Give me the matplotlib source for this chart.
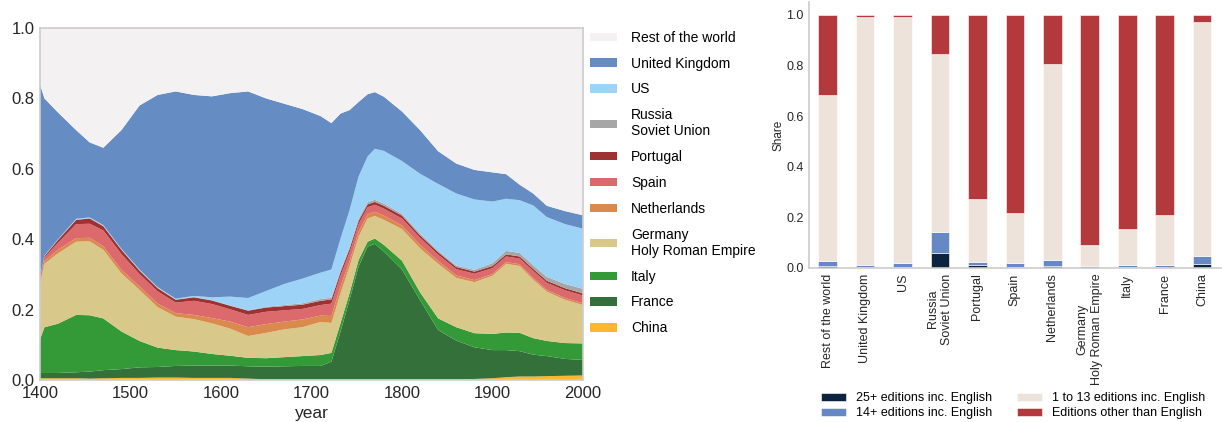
import numpy as np
import matplotlib
matplotlib.use("Agg")
import matplotlib.pyplot as plt

plt.rcParams['font.family'] = ['Liberation Sans', 'DejaVu Sans']

# ---- left chart: share of titles by country over time ----
years = [1400, 1405, 1420, 1440, 1455, 1470, 1490, 1510, 1530, 1550, 1570, 1590,
         1610, 1630, 1650, 1670, 1690, 1710, 1722, 1732, 1742, 1752, 1762, 1770,
         1780, 1800, 1820, 1840, 1860, 1880, 1900, 1915, 1930, 1945, 1960, 1980, 2000]

china = [.005, .005, .005, .005, .004, .005, .006, .006, .007, .007, .006, .006,
         .006, .004, .002, .002, .002, .002, .002, .002, .002, .002, .002, .002,
         .002, .002, .002, .002, .002, .003, .005, .008, .010, .010, .011, .012, .013]
france = [.015, .015, .015, .017, .020, .023, .025, .030, .030, .033, .035, .035,
          .035, .035, .036, .037, .038, .038, .050, .135, .225, .320, .377, .385,
          .363, .312, .225, .140, .110, .090, .080, .077, .072, .062, .057, .048, .044]
italy = [.095, .130, .140, .163, .160, .147, .107, .075, .055, .045, .040, .033,
         .028, .024, .024, .026, .028, .031, .025, .024, .019, .019, .014, .015,
         .019, .025, .022, .033, .038, .040, .046, .050, .052, .047, .043, .045, .047]
germany = [.155, .180, .200, .208, .210, .195, .165, .145, .115, .095, .092, .087,
           .077, .062, .072, .079, .082, .094, .085, .085, .076, .066, .066, .064,
           .071, .090, .125, .155, .140, .145, .165, .195, .190, .166, .140, .123, .109]
netherlands = [.005, .008, .010, .010, .010, .010, .010, .010, .010, .010, .012, .015,
               .020, .025, .025, .022, .022, .018, .020, .020, .015, .014, .012, .012,
               .012, .010, .010, .008, .007, .006, .005, .005, .005, .005, .005, .005, .005]
spain = [.010, .010, .020, .040, .040, .045, .045, .035, .035, .030, .040, .040,
         .035, .035, .035, .032, .030, .030, .035, .030, .025, .022, .020, .020,
         .020, .020, .020, .018, .018, .018, .017, .016, .016, .020, .020, .022, .022]
portugal = [.003, .004, .008, .012, .015, .012, .012, .010, .009, .008, .010, .010,
            .010, .012, .012, .012, .012, .012, .012, .010, .010, .009, .008, .008,
            .008, .008, .007, .007, .006, .006, .006, .006, .006, .006, .006, .006, .006]
russia = [.001, .001, .001, .001, .001, .001, .001, .001, .001, .001, .001, .001,
          .001, .001, .002, .003, .004, .005, .005, .005, .005, .006, .006, .006,
          .006, .005, .005, .004, .004, .005, .008, .010, .010, .010, .011, .012, .013]
us = [.001, .001, .001, .002, .002, .002, .002, .002, .002, .002, .003, .008,
      .025, .035, .045, .060, .070, .075, .080, .090, .105, .120, .130, .145,
      .150, .150, .170, .190, .205, .200, .175, .148, .150, .170, .170, .170, .171]
uk = [.550, .446, .360, .252, .213, .220, .337, .466, .546, .589, .571, .571,
      .578, .587, .547, .512, .482, .445, .416, .356, .285, .212, .177, .161,
      .154, .141, .124, .093, .085, .084, .083, .070, .044, .034, .032, .037, .038]
rest = [.160, .200, .240, .290, .325, .340, .290, .220, .190, .180, .190, .194,
        .185, .180, .200, .215, .230, .250, .270, .243, .233, .210, .188, .182,
        .195, .237, .290, .350, .385, .403, .410, .415, .445, .470, .505, .520, .532]

layer_names = ['China', 'France', 'Italy', 'Germany\nHoly Roman Empire', 'Netherlands',
               'Spain', 'Portugal', 'Russia\nSoviet Union', 'US', 'United Kingdom',
               'Rest of the world']
layer_colors = ['#fdb72f', '#34713a', '#349a37', '#d8c88a', '#da8a4c', '#dc6a6d',
                '#9e3132', '#a6a6a6', '#9dd3f6', '#668dc3', '#f3f1f1']

# ---- right chart: edition shares by country ----
countries = ['Rest of the world', 'United Kingdom', 'US', 'Russia\nSoviet Union',
             'Portugal', 'Spain', 'Netherlands', 'Germany\nHoly Roman Empire',
             'Italy', 'France', 'China']
ed_25 = [.008, .005, .005, .060, .010, .005, .009, .001, .005, .003, .016]
ed_14 = [.018, .008, .013, .081, .012, .016, .024, .007, .008, .010, .030]
ed_1_13 = [.657, .979, .974, .704, .249, .196, .772, .084, .141, .197, .924]
ed_other = [.317, .008, .008, .155, .729, .783, .195, .908, .846, .790, .030]

ed_labels = ['25+ editions inc. English', '14+ editions inc. English',
             '1 to 13 editions inc. English', 'Editions other than English']
ed_colors = ['#0c2440', '#6688c5', '#eee3da', '#b4393c']

fig = plt.figure(figsize=(12.22, 4.22), dpi=100)

# left: stacked area
ax1 = fig.add_axes([0.0327, 0.0995, 0.4444, 0.834])
ax1.stackplot(years, china, france, italy, germany, netherlands, spain,
              portugal, russia, us, uk, rest,
              colors=layer_colors, labels=layer_names, linewidth=0)
ax1.set_xlim(1400, 2000)
ax1.set_ylim(0, 1)
ax1.set_xticks(range(1400, 2001, 100))
ax1.set_yticks(np.arange(0, 1.01, 0.2))
ax1.tick_params(length=0, labelsize=12, colors='#262626', pad=4)
ax1.set_xlabel('year', fontsize=12.5, color='#262626', labelpad=4)
for sp in ax1.spines.values():
    sp.set_color('#cccccc')
    sp.set_linewidth(1.2)
h, l = ax1.get_legend_handles_labels()
ax1.legend(h[::-1], l[::-1], loc='upper left', bbox_to_anchor=(1.0, 1.012),
           frameon=False, fontsize=10, handlelength=1.95, handleheight=0.55,
           labelspacing=0.85, handletextpad=1.0, borderaxespad=0.1)

# right: stacked bars
ax2 = fig.add_axes([0.662, 0.365, 0.337, 0.630])
x = np.arange(len(countries))
bottom = np.zeros(len(countries))
for vals, lab, col in zip([ed_25, ed_14, ed_1_13, ed_other], ed_labels, ed_colors):
    ax2.bar(x, vals, 0.5, bottom=bottom, color=col, label=lab,
            edgecolor='white', linewidth=0.4)
    bottom += np.array(vals)
ax2.set_xlim(-0.5, len(countries) - 0.5)
ax2.set_ylim(0, 1.05)
ax2.set_xticks(x)
ax2.set_xticklabels(countries, rotation=90)
ax2.set_yticks(np.arange(0, 1.01, 0.2))
ax2.set_yticklabels([f'{v:.1f}' for v in np.arange(0, 1.01, 0.2)])
ax2.tick_params(length=0, labelsize=9, colors='#262626', pad=4)
ax2.set_ylabel('Share', fontsize=8.5, color='#262626', labelpad=1)
for side in ['top', 'right']:
    ax2.spines[side].set_visible(False)
for side in ['left', 'bottom']:
    ax2.spines[side].set_color('#cccccc')
    ax2.spines[side].set_linewidth(1.2)
fig.legend(*ax2.get_legend_handles_labels(), loc='center',
           bbox_to_anchor=(0.829, 0.039), ncol=2, frameon=False,
           fontsize=9, handlelength=2.0, handleheight=0.6, columnspacing=2.0,
           labelspacing=0.25, borderpad=0.1)

fig.savefig('out.png', dpi=100)
